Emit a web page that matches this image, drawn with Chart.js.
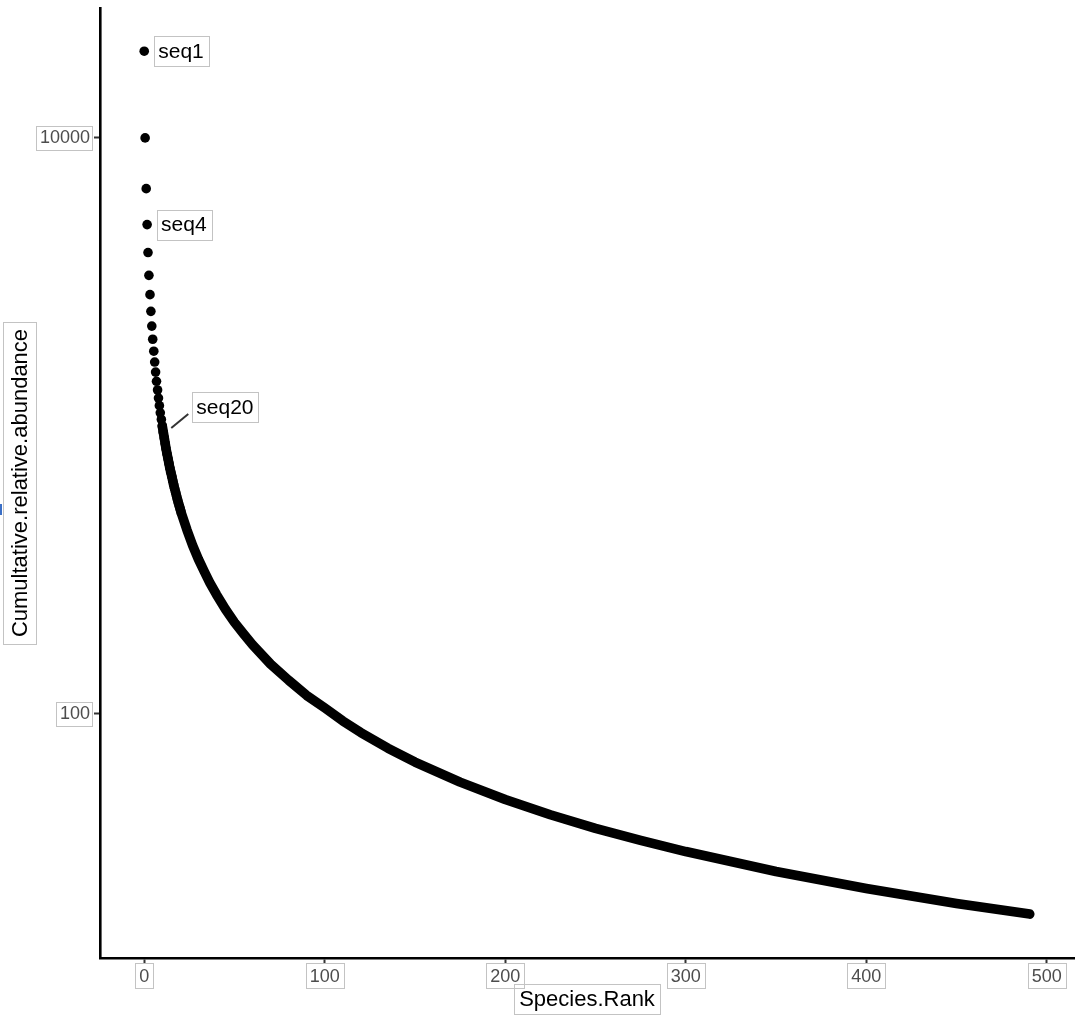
<!DOCTYPE html>
<html>
<head>
<meta charset="utf-8">
<script src="https://cdn.jsdelivr.net/npm/chart.js@4.4.1/dist/chart.umd.min.js"></script>
<style>
  html, body { margin: 0; padding: 0; background: #ffffff; }
  #wrap { width: 1080px; height: 1022px; position: relative; }
</style>
</head>
<body>
<div id="wrap"><canvas id="rankChart" width="1080" height="1022"></canvas></div>
<script>
// separate dots at the top of the curve (species rank, abundance)
var dotRanks = [0, 0.5, 1.1, 1.6, 2.1, 2.6, 3.2, 3.7, 4.2, 4.7,
    5.3, 5.8, 6.3, 6.8, 7.4, 7.9, 8.4, 8.9, 9.5, 10.0,
    10.5, 11.1, 11.6, 12.1, 12.6, 13.2, 13.7, 14.2, 14.7, 15.3,
    15.8, 16.3, 16.8, 17.4, 17.9, 18.4, 18.9, 19.5, 20.0, 20.5];
var dotAbundance = [20000, 10000, 6667, 5000, 4000, 3333, 2857, 2500, 2222, 2000,
    1818, 1667, 1538, 1429, 1333, 1250, 1176, 1111, 1053, 1000,
    952, 909, 870, 833, 800, 769, 741, 714, 690, 667,
    645, 625, 606, 588, 571, 556, 541, 526, 513, 500];

// dense part where the markers merge into one thick band
var bandRanks = [10.0, 11.1, 12.1, 13.2, 14.2, 15.3, 16.3, 17.4, 18.4, 19.5,
    20.5, 23.7, 26.8, 30.0, 33.2, 36.3, 40, 45, 50, 55,
    60, 70, 80, 90, 100, 110, 120, 135, 150, 175,
    200, 225, 250, 275, 300, 350, 400, 450, 490.6];
var bandAbundance = [1000, 909, 833, 769, 714, 667, 625, 588, 556, 526,
    500, 435, 385, 345, 313, 286, 260, 231, 208, 190,
    174, 149, 131, 116, 105, 94.6, 86.2, 76.1, 68.1, 58.0,
    50.5, 44.7, 40.1, 36.4, 33.3, 28.4, 24.8, 22.0, 20.2];

// labelled species (index into the dot arrays)
var labelNames = ['seq1', 'seq4', 'seq20'];
var labelIndex = [0, 3, 19];

var xTicks = [0, 100, 200, 300, 400, 500];
var yTicks = [100, 10000];
var xTitle = 'Species.Rank';
var yTitle = 'Cumultative.relative.abundance';

var FONT = '"Liberation Sans", Arial, sans-serif';
var tickFont = '18px ' + FONT;
var titleFont = '22px ' + FONT;
var labelFont = '21px ' + FONT;
var boxColor = '#c3c3c3';

function toPoints(xs, ys) {
    var pts = [];
    for (var i = 0; i < xs.length; i++) {
        pts.push({ x: xs[i], y: ys[i] });
    }
    return pts;
}

function crisp(v) {
    return Math.round(v) + 0.5;
}

// boxes round tick labels, axis titles and the seq labels
var boxPlugin = {
    id: 'boxes',
    afterDraw: function (chart) {
        var ctx = chart.ctx;
        var xs = chart.scales.x;
        var ys = chart.scales.y;
        var area = chart.chartArea;
        ctx.save();
        ctx.lineWidth = 1;
        ctx.strokeStyle = boxColor;

        ctx.font = tickFont;
        ys.ticks.forEach(function (t) {
            var p = ys.getPixelForValue(t.value);
            var w = ctx.measureText(String(t.label)).width;
            var right = area.left - 10;
            ctx.strokeRect(crisp(right - w - 4), crisp(p - 12), Math.round(w + 6), 24);
        });
        xs.ticks.forEach(function (t) {
            var p = xs.getPixelForValue(t.value);
            var w = ctx.measureText(String(t.label)).width;
            ctx.strokeRect(crisp(p - w / 2 - 4), crisp(area.bottom + 5), Math.round(w + 8), 25);
        });

        // axis titles
        ctx.font = titleFont;
        ctx.fillStyle = '#000000';
        ctx.textBaseline = 'middle';
        ctx.textAlign = 'center';
        var cx = (area.left + area.right) / 2;
        var tw = ctx.measureText(xTitle).width;
        ctx.fillText(xTitle, cx, 1000);
        ctx.strokeRect(crisp(cx - tw / 2 - 5), crisp(984), Math.round(tw + 10), 30);

        var cy = (area.top + area.bottom) / 2;
        var th = ctx.measureText(yTitle).width;
        ctx.save();
        ctx.translate(20, cy);
        ctx.rotate(-Math.PI / 2);
        ctx.fillText(yTitle, 0, 1);
        ctx.restore();
        ctx.strokeRect(crisp(3), crisp(cy - th / 2 - 7), 33, Math.round(th + 14));

        // seq labels
        ctx.font = labelFont;
        ctx.textAlign = 'left';
        for (var i = 0; i < labelNames.length; i++) {
            var k = labelIndex[i];
            var px = xs.getPixelForValue(dotRanks[k]);
            var py = ys.getPixelForValue(dotAbundance[k]);
            var lw = ctx.measureText(labelNames[i]).width;
            var bx = px + 10, by = py;
            if (labelNames[i] === 'seq20') {
                bx = px + 30;
                by = py - 19;
                ctx.strokeStyle = '#333333';
                ctx.lineWidth = 2;
                ctx.beginPath();
                ctx.moveTo(px + 9, py + 2);
                ctx.lineTo(bx - 4, by + 7);
                ctx.stroke();
                ctx.lineWidth = 1;
            }
            ctx.fillStyle = '#ffffff';
            ctx.fillRect(bx, by - 15, lw + 9, 30);
            ctx.strokeStyle = boxColor;
            ctx.strokeRect(crisp(bx), crisp(by - 15), Math.round(lw + 9), 30);
            ctx.fillStyle = '#000000';
            ctx.fillText(labelNames[i], bx + 4, by + 1);
        }

        // small blue mark at the left edge of the picture
        ctx.fillStyle = '#3b6fc6';
        ctx.fillRect(0, 504, 2, 11);
        ctx.restore();
    }
};

function noPadding(scale) {
    scale.paddingTop = 0;
    scale.paddingBottom = 0;
    scale.paddingLeft = 0;
    scale.paddingRight = 0;
}

new Chart(document.getElementById('rankChart'), {
    type: 'scatter',
    data: {
        datasets: [{
            label: 'band',
            data: toPoints(bandRanks, bandAbundance),
            showLine: true,
            borderColor: '#000000',
            borderWidth: 9.6,
            borderCapStyle: 'round',
            borderJoinStyle: 'round',
            tension: 0,
            pointRadius: 0,
            pointHoverRadius: 0
        }, {
            label: 'dots',
            data: toPoints(dotRanks, dotAbundance),
            backgroundColor: '#000000',
            borderWidth: 0,
            pointRadius: 4.8,
            pointHoverRadius: 4.8
        }]
    },
    options: {
        responsive: false,
        animation: false,
        devicePixelRatio: 1,
        layout: { padding: { top: 8, right: 6, left: 0, bottom: 0 } },
        plugins: {
            legend: { display: false },
            tooltip: { enabled: false }
        },
        scales: {
            x: {
                type: 'linear',
                min: -24.5,
                max: 515.1,
                afterBuildTicks: function (scale) {
                    scale.ticks = xTicks.map(function (v) { return { value: v }; });
                },
                afterFit: function (scale) { scale.height = 64; noPadding(scale); },
                grid: { display: true, drawOnChartArea: false, drawTicks: true, tickLength: 5, tickColor: '#333333', tickWidth: 2 },
                border: { display: true, color: '#000000', width: 2.6 },
                ticks: {
                    autoSkip: false,
                    maxRotation: 0,
                    padding: 3,
                    color: '#4d4d4d',
                    font: { family: FONT, size: 18 },
                    callback: function (v) { return String(v); }
                }
            },
            y: {
                type: 'logarithmic',
                min: 14.22,
                max: 28250,
                afterBuildTicks: function (scale) {
                    scale.ticks = yTicks.map(function (v) { return { value: v }; });
                },
                afterFit: function (scale) { scale.width = 100; noPadding(scale); },
                grid: { display: true, drawOnChartArea: false, drawTicks: true, tickLength: 6, tickColor: '#333333', tickWidth: 2 },
                border: { display: true, color: '#000000', width: 2.6 },
                ticks: {
                    autoSkip: false,
                    padding: 4,
                    color: '#4d4d4d',
                    font: { family: FONT, size: 18 },
                    callback: function (v) { return String(v); }
                }
            }
        }
    },
    plugins: [boxPlugin]
});
</script>
</body>
</html>
